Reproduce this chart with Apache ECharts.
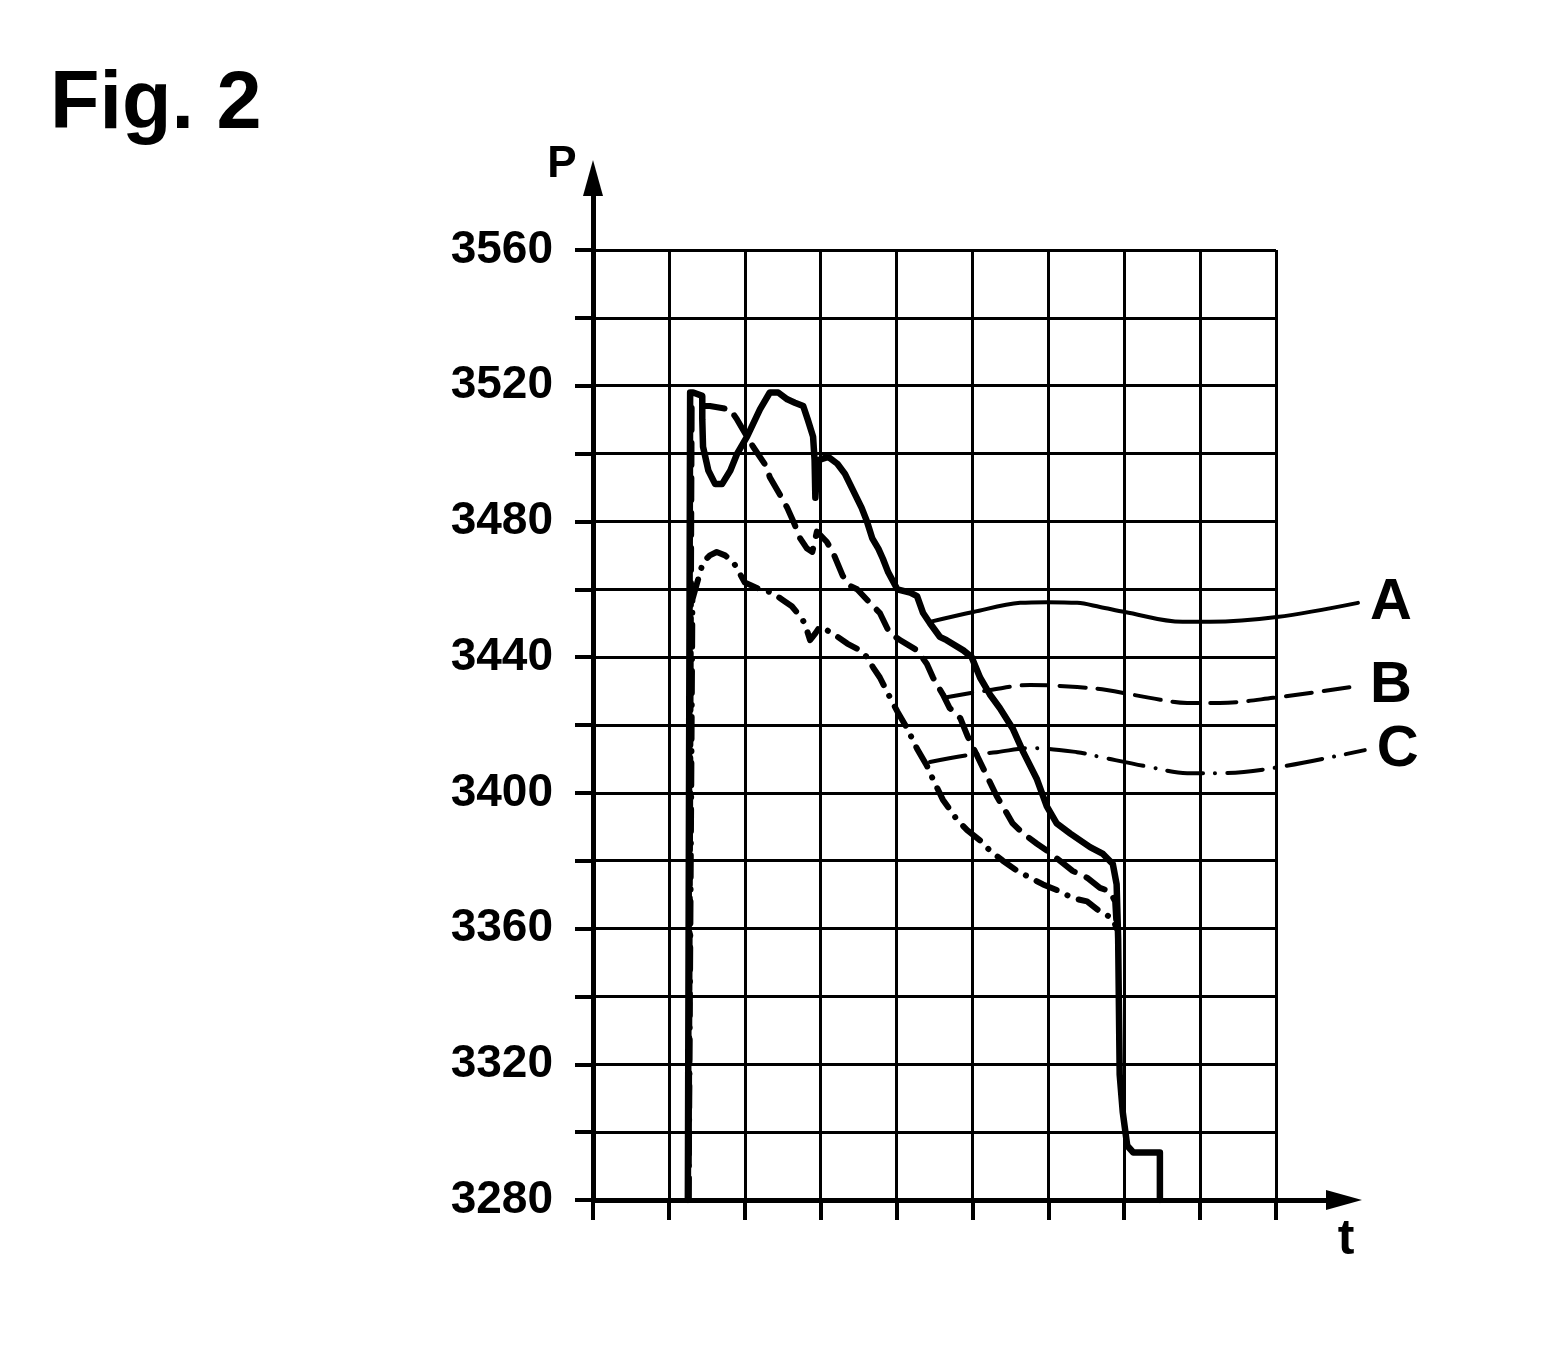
<!DOCTYPE html>
<html>
<head>
<meta charset="utf-8">
<script src="https://cdn.jsdelivr.net/npm/echarts@6/dist/echarts.min.js"></script>
<style>
  html, body { margin: 0; padding: 0; background: #fff; }
  #chart { width: 1564px; height: 1358px; }
</style>
</head>
<body>
<div id="chart"></div>
<script>
// y labels shown every 40, ticks/grid every 20
var yMin = 3280, yMax = 3560, yStep = 20, yLabelStep = 40;
var xMin = 0, xMax = 9;

// curve A (solid)
var curveA = [
  [1.25,3280],[1.28,3518],[1.32,3518],[1.44,3517],[1.44,3510],[1.45,3502],[1.52,3495],[1.61,3491],
  [1.70,3491],[1.81,3495],[1.90,3500],[2.03,3505],[2.20,3513],[2.33,3518],[2.44,3518],[2.56,3516],
  [2.66,3515],[2.77,3514],[2.83,3510],[2.90,3505],[2.92,3498],[2.93,3487],[2.96,3498],[3.10,3499],
  [3.22,3497],[3.32,3494],[3.43,3489],[3.54,3484],[3.61,3480],[3.68,3475],[3.76,3472],[3.82,3469],
  [3.89,3465],[4.01,3460],[4.18,3459],[4.27,3458],[4.35,3453],[4.44,3450],[4.57,3446],[4.66,3445],
  [4.88,3442],[4.99,3440],[5.10,3434],[5.23,3429],[5.36,3425],[5.53,3419],[5.67,3412],[5.85,3404],
  [5.98,3396],[6.11,3391],[6.29,3388],[6.55,3384],[6.72,3382],[6.85,3379],[6.90,3373],[6.92,3357],
  [6.94,3317],[6.98,3306],[7.04,3296],[7.12,3294],[7.47,3294],[7.47,3280]
];

// curve B (dashed)
var curveB = [
  [1.26,3280],[1.30,3514],[1.54,3514],[1.81,3513],[1.90,3510],[2.03,3505],[2.11,3502],[2.29,3496],
  [2.33,3493],[2.46,3488],[2.56,3484],[2.64,3480],[2.73,3475],[2.82,3472],[2.89,3471],[2.95,3477],
  [3.08,3474],[3.16,3471],[3.29,3464],[3.39,3461],[3.48,3460],[3.65,3456],[3.78,3453],[3.91,3447],
  [4.05,3445],[4.27,3442],[4.40,3438],[4.48,3434],[4.61,3429],[4.70,3425],[4.84,3422],[4.93,3417],
  [5.06,3411],[5.19,3405],[5.32,3399],[5.40,3396],[5.53,3391],[5.67,3388],[5.85,3385],[5.98,3383],
  [6.15,3380],[6.32,3377],[6.51,3375],[6.68,3372],[6.81,3371],[6.88,3368],[6.90,3360]
];

// curve C (dash-dot)
var curveC = [
  [1.26,3280],[1.31,3457],[1.45,3468],[1.54,3470],[1.63,3471],[1.74,3470],[1.85,3468],[2.00,3462],
  [2.20,3460],[2.36,3459],[2.49,3457],[2.62,3455],[2.73,3452],[2.79,3450],[2.86,3445],[2.93,3447],
  [2.99,3449],[3.16,3447],[3.35,3444],[3.52,3442],[3.61,3440],[3.69,3437],[3.78,3434],[3.87,3430],
  [4.01,3424],[4.14,3419],[4.27,3413],[4.40,3408],[4.48,3404],[4.61,3398],[4.80,3392],[4.93,3389],
  [5.10,3386],[5.23,3383],[5.40,3380],[5.59,3377],[5.76,3375],[5.93,3373],[6.15,3371],[6.32,3369],
  [6.51,3368],[6.68,3365],[6.85,3363],[6.90,3360]
];

// leader curves to the letters
var leaderA = [[4.44,3450.4],[5.01,3453.3],[5.63,3456.0],[5.98,3456.2],[6.38,3456.0],[6.68,3454.8],
  [7.01,3453.3],[7.77,3450.4],[8.13,3450.4],[9.01,3451.8],[10.08,3456.0]];
var leaderB = [[4.66,3428.2],[5.23,3430.3],[5.76,3431.8],[6.38,3431.2],[6.77,3430.3],[7.34,3428.0],
  [7.83,3426.5],[8.26,3426.5],[8.96,3428.0],[10.08,3431.5]];
var leaderC = [[4.44,3409.1],[4.97,3411.2],[5.32,3412.0],[5.76,3413.2],[6.38,3412.0],[6.68,3410.6],
  [7.34,3407.6],[7.83,3405.8],[8.26,3405.8],[8.96,3407.3],[10.17,3412.6]];

var curveNames = ['A', 'B', 'C'];

var FONT = '"Liberation Sans", Arial, sans-serif';
var chart = echarts.init(document.getElementById('chart'), null, { renderer: 'canvas' });

// same scale as the main grid, just wider so the leaders reach the letters
var wideMax = 10.25;
var wideWidth = 683 / xMax * wideMax;

function leader(name, data, dash) {
  return {
    type: 'line', data: data, xAxisIndex: 2, yAxisIndex: 2,
    smooth: 0.35, showSymbol: false, silent: true,
    lineStyle: { color: '#000', width: 4, type: dash, cap: 'round' },
    endLabel: {
      show: true, formatter: name, distance: 12, color: '#000',
      fontFamily: FONT, fontWeight: 'bold', fontSize: 58
    }
  };
}

function hiddenAxis(idx, min, max) {
  return {
    type: 'value', gridIndex: idx, min: min, max: max,
    axisLine: { show: false }, axisTick: { show: false },
    axisLabel: { show: false }, splitLine: { show: false }
  };
}

var option = {
  animation: false,
  backgroundColor: '#fff',
  grid: [
    { left: 593, top: 250, width: 683, height: 950 },
    { left: 593, top: 178, width: 751, height: 1022 },
    { left: 593, top: 250, width: wideWidth, height: 950 }
  ],
  xAxis: [
    {
      type: 'value', gridIndex: 0, min: xMin, max: xMax, interval: 1,
      axisLine: { show: false, onZero: false },
      axisTick: { show: true, length: 20, inside: false, lineStyle: { color: '#000', width: 4 } },
      axisLabel: { show: false },
      splitLine: { show: true, lineStyle: { color: '#000', width: 3 } }
    },
    {
      type: 'value', gridIndex: 1, min: 0, max: 1,
      axisLine: { show: true, onZero: false, symbol: ['none', 'triangle'], symbolSize: [20, 36],
        lineStyle: { color: '#000', width: 5 } },
      axisTick: { show: false }, axisLabel: { show: false }, splitLine: { show: false }
    },
    hiddenAxis(2, xMin, wideMax)
  ],
  yAxis: [
    {
      type: 'value', gridIndex: 0, min: yMin, max: yMax, interval: yStep,
      axisLine: { show: false, onZero: false },
      axisTick: { show: true, length: 18, inside: false, lineStyle: { color: '#000', width: 4 } },
      axisLabel: {
        show: true, margin: 40, color: '#000', fontFamily: FONT, fontWeight: 'bold', fontSize: 46,
        formatter: function (v) { return (v - yMin) % yLabelStep === 0 ? String(v) : ''; }
      },
      splitLine: { show: true, lineStyle: { color: '#000', width: 3 } }
    },
    {
      type: 'value', gridIndex: 1, min: 0, max: 1,
      axisLine: { show: true, onZero: false, symbol: ['none', 'triangle'], symbolSize: [20, 36],
        lineStyle: { color: '#000', width: 5 } },
      axisTick: { show: false }, axisLabel: { show: false }, splitLine: { show: false }
    },
    hiddenAxis(2, yMin, yMax)
  ],
  graphic: [
    { type: 'text', x: 50, y: 106, style: { text: 'Fig. 2', fill: '#000', font: 'bold 81px ' + FONT,
      align: 'left', verticalAlign: 'middle' } },
    { type: 'text', x: 562, y: 165, style: { text: 'P', fill: '#000', font: 'bold 44px ' + FONT,
      align: 'center', verticalAlign: 'middle' } },
    { type: 'text', x: 1346, y: 1240, style: { text: 't', fill: '#000', font: 'bold 50px ' + FONT,
      align: 'center', verticalAlign: 'middle' } }
  ],
  series: [
    { name: 'C', type: 'line', data: curveC, showSymbol: false, silent: true,
      lineStyle: { color: '#000', width: 6, type: [22, 12, 0.1, 12], cap: 'round', join: 'round' } },
    { name: 'B', type: 'line', data: curveB, showSymbol: false, silent: true,
      lineStyle: { color: '#000', width: 6, type: [22, 13], cap: 'round', join: 'round' } },
    { name: 'A', type: 'line', data: curveA, showSymbol: false, silent: true,
      lineStyle: { color: '#000', width: 6.5, cap: 'round', join: 'round' } },
    leader(curveNames[0], leaderA, 'solid'),
    leader(curveNames[1], leaderB, [26, 12]),
    leader(curveNames[2], leaderC, [36, 12, 0.1, 12])
  ]
};

chart.setOption(option);
</script>
</body>
</html>
